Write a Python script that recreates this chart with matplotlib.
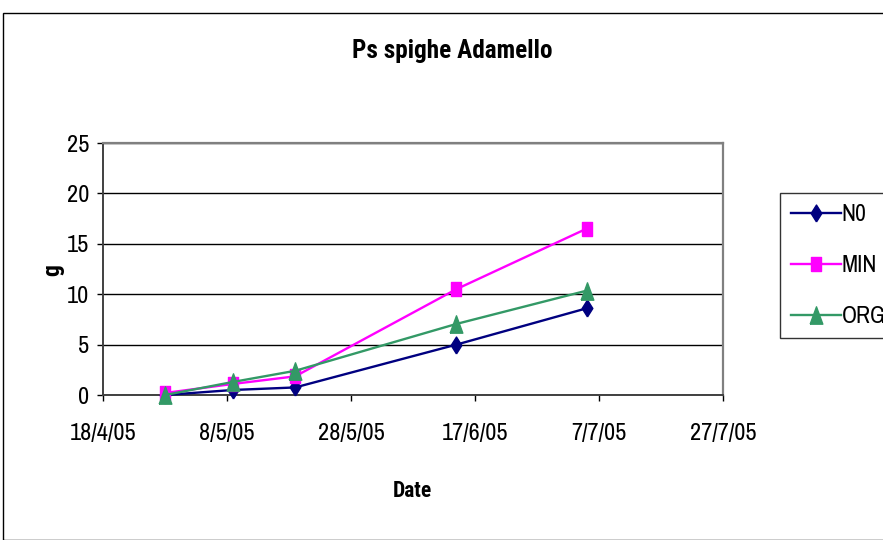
import matplotlib
matplotlib.use("Agg")
import matplotlib.pyplot as plt
from matplotlib.patches import Rectangle
import datetime as dt

# Sampling dates and measured ear dry weight (g)
dates = ["2005-04-28", "2005-05-09", "2005-05-19", "2005-06-14", "2005-07-05"]
n0 = [0.0, 0.5, 0.75, 5.0, 8.6]
mineral = [0.2, 1.1, 1.85, 10.5, 16.5]
organic = [0.0, 1.3, 2.4, 7.05, 10.35]
series_names = ["N0", "MIN", "ORG"]
tick_dates = ["2005-04-18", "2005-05-08", "2005-05-28", "2005-06-17", "2005-07-07", "2005-07-27"]
tick_labels = ["18/4/05", "8/5/05", "28/5/05", "17/6/05", "7/7/05", "27/7/05"]
y_ticks = [0, 5, 10, 15, 20, 25]

REG = ["Archivo Narrow", "Roboto Condensed", "DejaVu Sans"]
BOLD = ["Roboto Condensed", "DejaVu Sans"]
plt.rcParams["font.family"] = REG

to_d = lambda s: dt.datetime.strptime(s, "%Y-%m-%d")
x = [to_d(d) for d in dates]
ticks = [to_d(d) for d in tick_dates]

# narrow marker shapes (tall diamond, tall square, tall triangle)
diamond = [(0, -0.5), (0.315, 0), (0, 0.5), (-0.315, 0), (0, -0.5)]
square = [(-0.375, -0.5), (0.375, -0.5), (0.375, 0.5), (-0.375, 0.5), (-0.375, -0.5)]
triangle = [(-0.365, -0.5), (0.365, -0.5), (0, 0.5), (-0.365, -0.5)]

W, H = 883, 540
fig = plt.figure(figsize=(W / 100, H / 100), dpi=100)
fig.patch.set_facecolor("white")

# chart-area border
fig.add_artist(Rectangle((3.5 / W, 0), 1.0, 1 - 12.5 / H, transform=fig.transFigure,
                         fill=False, edgecolor="black", linewidth=1.0, clip_on=False))

ax = fig.add_axes([103 / W, 1 - 395 / H, (723 - 103) / W, (395 - 143) / H])
ax.set_facecolor("white")

ax.plot(x, n0, color="#000080", marker=diamond, markersize=12.2, linewidth=1.7,
        label=series_names[0], zorder=3, clip_on=False)
ax.plot(x, mineral, color="#FF00FF", marker=square, markersize=10, linewidth=1.7,
        label=series_names[1], zorder=3, clip_on=False)
ax.plot(x, organic, color="#339966", marker=triangle, markersize=12.5, linewidth=1.7,
        label=series_names[2], zorder=4, clip_on=False)

ax.set_xlim(ticks[0], ticks[-1])
ax.set_ylim(y_ticks[0], y_ticks[-1])
ax.set_xticks(ticks)
ax.set_xticklabels(tick_labels)
ax.set_yticks(y_ticks)
ax.yaxis.grid(True, color="black", linewidth=1.0)
ax.set_axisbelow(True)

for side in ("top", "right"):
    ax.spines[side].set_color("#808080")
    ax.spines[side].set_linewidth(1.6)
for side in ("left", "bottom"):
    ax.spines[side].set_color("#404040")
    ax.spines[side].set_linewidth(1.4)

ax.tick_params(axis="both", direction="out", length=4, width=1, labelsize=17.5, colors="black")
ax.tick_params(axis="x", pad=16)
ax.tick_params(axis="y", pad=6)

fig.text(452 / W, 1 - 51 / H, "Ps spighe Adamello", ha="center", va="center",
         fontsize=18.2, fontweight="bold", family=BOLD)
fig.text(412 / W, 1 - 491 / H, "Date", ha="center", va="center", fontsize=15.5,
         fontweight="bold", family=BOLD)
fig.text(53 / W, 1 - 270 / H, "g", ha="center", va="center", fontsize=17,
         fontweight="bold", rotation=90, family=BOLD)

leg = fig.legend(loc="upper left", bbox_to_anchor=(780 / W, 1 - 193 / H), frameon=True,
                 prop={"family": REG, "size": 17}, handlelength=2.1, handletextpad=0.05,
                 labelspacing=1.27, borderpad=0.47, borderaxespad=0, fancybox=False)
leg.get_frame().set_edgecolor("black")
leg.get_frame().set_linewidth(1.0)

fig.savefig("out.png", dpi=100)
